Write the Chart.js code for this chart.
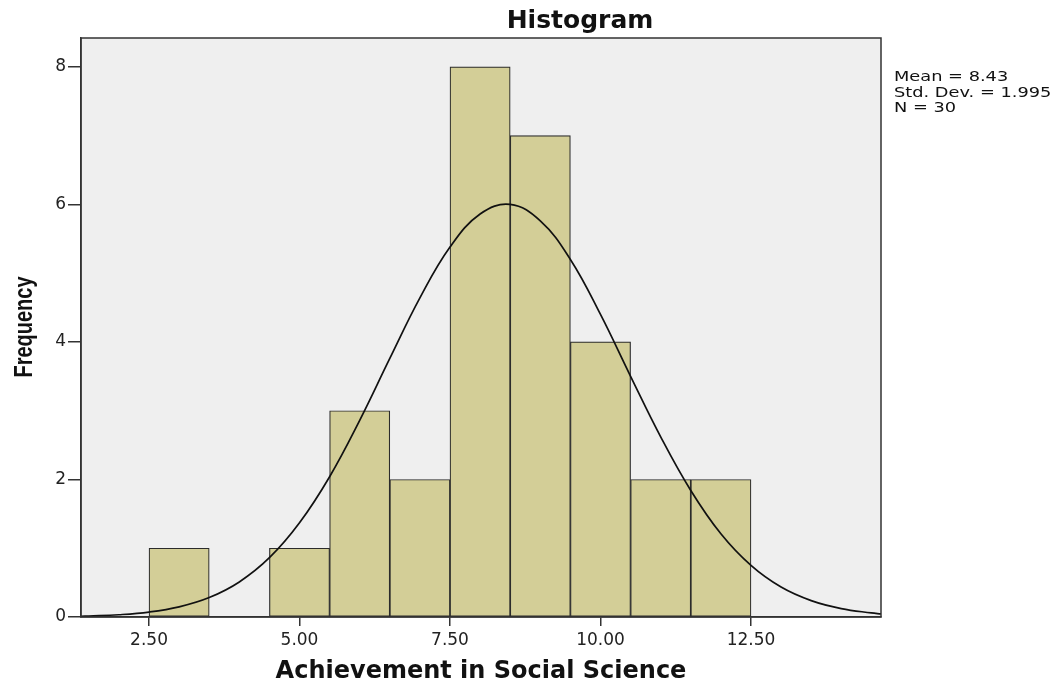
<!DOCTYPE html>
<html>
<head>
<meta charset="utf-8">
<script src="https://cdn.jsdelivr.net/npm/chart.js@4/dist/chart.umd.min.js"></script>
<style>
  html, body { margin: 0; padding: 0; background: #fff; }
  #wrap { width: 1060px; height: 686px; }
</style>
</head>
<body>
<div id="wrap"><canvas id="histChart"></canvas></div>
<script>
// bins of width 1, centres
const binCenters = [3, 4, 5, 6, 7, 8, 9, 10, 11, 12];
const binCounts = [1, 0, 1, 3, 2, 8, 7, 4, 2, 2];

// normal curve
const curveX = [1.37, 1.5, 2, 2.5, 3, 3.5, 4, 4.5, 5, 5.5, 6, 6.5, 7, 7.5, 8, 8.5, 9, 9.5, 10, 10.5, 11, 11.5, 12, 12.5, 13, 13.5, 14, 14.5, 14.66];
const curveY = [0.01, 0.014, 0.033, 0.072, 0.148, 0.283, 0.51, 0.862, 1.37, 2.04, 2.86, 3.76, 4.64, 5.38, 5.86, 6.0, 5.76, 5.2, 4.4, 3.5, 2.62, 1.84, 1.21, 0.75, 0.435, 0.238, 0.122, 0.059, 0.045];

const xTicks = [2.5, 5, 7.5, 10, 12.5];
const yTicks = [0, 2, 4, 6, 8];
const statsLines = ["Mean = 8.43", "Std. Dev. = 1.995", "N = 30"];

const ctx = document.querySelector("#histChart").getContext("2d");

const extras = {
  id: "extras",
  beforeDraw: (chart) => {
    const a = chart.chartArea;
    const c = chart.ctx;
    c.save();
    c.fillStyle = "#efefef";
    c.fillRect(a.left, a.top, a.right - a.left, a.bottom - a.top);
    c.restore();
  },
  afterDraw: (chart) => {
    const a = chart.chartArea;
    const c = chart.ctx;
    c.save();
    c.strokeStyle = "#333";
    c.lineWidth = 1.5;
    c.strokeRect(a.left, a.top, a.right - a.left, a.bottom - a.top);

    c.fillStyle = "#111";
    c.font = "bold 25px 'DejaVu Sans', sans-serif";
    c.textAlign = "center";
    c.textBaseline = "alphabetic";
    c.fillText("Histogram", 580, 28);

    // y title, condensed like the original
    c.save();
    c.translate(32, 327);
    c.rotate(-Math.PI / 2);
    c.scale(1, 1.3);
    c.font = "bold 20px 'Liberation Sans', Arial, sans-serif";
    c.fillText("Frequency", 0, 0);
    c.restore();

    // stats box
    c.font = "14px 'DejaVu Sans', sans-serif";
    c.textAlign = "left";
    statsLines.forEach((t, i) => {
      c.save();
      c.translate(894, 81 + i * 15.5);
      c.scale(1.27, 1);
      c.fillText(t, 0, 0);
      c.restore();
    });
    c.restore();
  },
};

new Chart(ctx, {
  data: {
    datasets: [
      {
        type: "line",
        data: curveX.map((x, i) => ({ x: x, y: curveY[i] })),
        borderColor: "#111",
        borderWidth: 1.7,
        pointRadius: 0,
        tension: 0.4,
        order: 0,
      },
      {
        type: "bar",
        data: binCenters.map((x, i) => ({ x: x, y: binCounts[i] })),
        backgroundColor: "#d3ce97",
        borderColor: "#2b2b2b",
        borderWidth: 1.2,
        borderSkipped: false,
        barPercentage: 1,
        categoryPercentage: 1,
        order: 1,
      },
    ],
  },
  options: {
    responsive: true,
    maintainAspectRatio: false,
    animation: false,
    layout: { padding: { top: 38, right: 179, left: 0, bottom: 0 } },
    plugins: { legend: { display: false }, tooltip: { enabled: false } },
    scales: {
      x: {
        type: "linear",
        offset: false,
        min: 1.37,
        max: 14.66,
        afterBuildTicks: (s) => { s.ticks = xTicks.map((v) => ({ value: v })); },
        afterFit: (s) => { s.height = 69; },
        grid: { offset: false, drawOnChartArea: false, tickLength: 9, color: "#333", lineWidth: 1.5 },
        border: { color: "#333", width: 1.5 },
        ticks: {
          color: "#222",
          padding: 4,
          font: { family: "'DejaVu Sans', sans-serif", size: 17 },
          callback: (v) => Number(v).toFixed(2),
        },
        title: {
          display: true,
          text: "Achievement in Social Science",
          color: "#111",
          padding: { top: 0, bottom: 0 },
          font: { family: "'DejaVu Sans', sans-serif", size: 24, weight: "bold" },
        },
      },
      y: {
        min: 0,
        max: 8.42,
        afterBuildTicks: (s) => { s.ticks = yTicks.map((v) => ({ value: v })); },
        afterFit: (s) => { s.width = 81; },
        grid: { drawOnChartArea: false, tickLength: 13, color: "#333", lineWidth: 1.5 },
        border: { color: "#333", width: 1.5 },
        ticks: {
          color: "#222",
          padding: 2,
          font: { family: "'DejaVu Sans', sans-serif", size: 17 },
        },
      },
    },
  },
  plugins: [extras],
});
</script>
</body>
</html>
